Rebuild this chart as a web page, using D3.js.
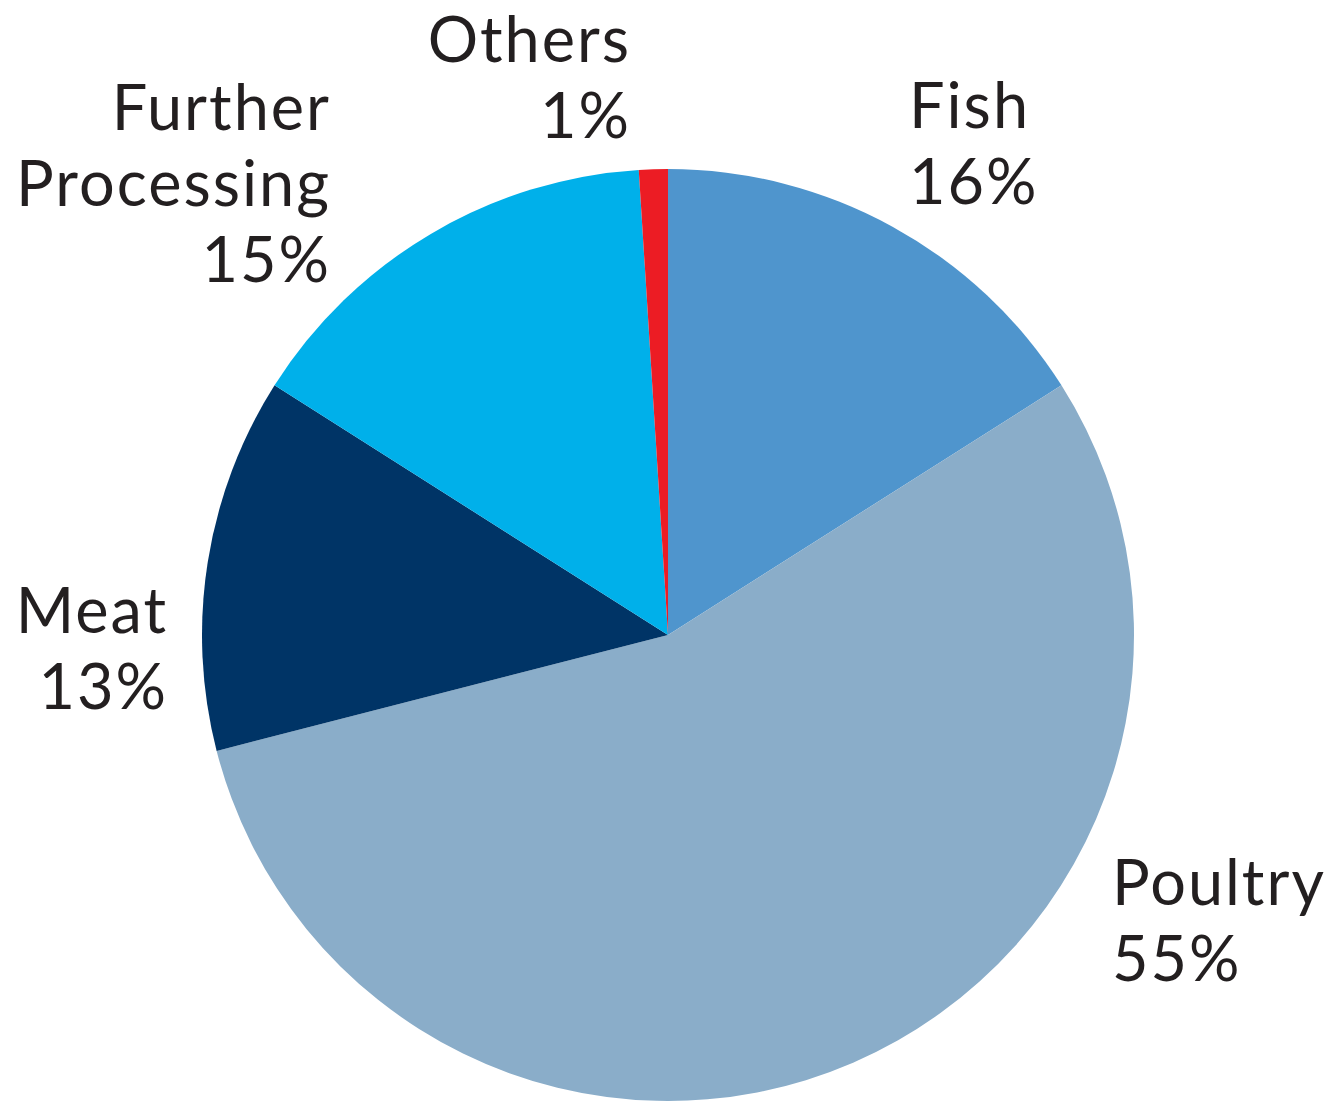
<!DOCTYPE html>
<html>
<head>
<meta charset="utf-8">
<script src="https://cdn.jsdelivr.net/npm/d3@7"></script>
<style>
  html, body { margin: 0; padding: 0; background: #ffffff; }
  svg { display: block; }
  text { font-family: Lato, "Open Sans", sans-serif; fill: #231f20; letter-spacing: 2px; }
</style>
</head>
<body>
<svg id="chart" width="1329" height="1102"></svg>
<script>
const categories = ["Fish", "Poultry", "Meat", "Further Processing", "Others"];
const values = [16, 55, 13, 15, 1];
const colors = ["#4f95cd", "#8aadc9", "#003466", "#00b0ea", "#ec1c24"];
const labelLines = [["Fish", "16%"], ["Poultry", "55%"], ["Meat", "13%"], ["Further", "Processing", "15%"], ["Others", "1%"]];

const W = 1329, H = 1102;
const cx = 668, cy = 635, R = 466;
const svg = d3.select("#chart");

const data = categories.map((c, i) => ({ name: c, value: values[i], color: colors[i], lines: labelLines[i] }));

const pie = d3.pie().value(d => d.value).sort(null);
const arc = d3.arc().innerRadius(0).outerRadius(R);

const g = svg.append("g").attr("transform", `translate(${cx},${cy})`);
g.selectAll("path").data(pie(data)).join("path")
  .attr("d", arc)
  .attr("fill", d => d.data.color);

// label layout: anchor point (x, first baseline), alignment
const labelPos = {
  "Fish": { x: 909, y: 128, anchor: "start" },
  "Poultry": { x: 1112, y: 905, anchor: "start" },
  "Meat": { x: 168, y: 633, anchor: "end" },
  "Further Processing": { x: 331, y: 130, anchor: "end" },
  "Others": { x: 631, y: 62, anchor: "end" }
};
const lineH = 76;
const fontSize = 63;

data.forEach(d => {
  const p = labelPos[d.name];
  const t = svg.append("text")
    .attr("x", p.x).attr("y", p.y)
    .attr("text-anchor", p.anchor)
    .style("font-size", fontSize + "px");
  d.lines.forEach((ln, i) => {
    t.append("tspan").attr("x", p.x).attr("dy", i === 0 ? 0 : lineH).text(ln);
  });
});
</script>
</body>
</html>
